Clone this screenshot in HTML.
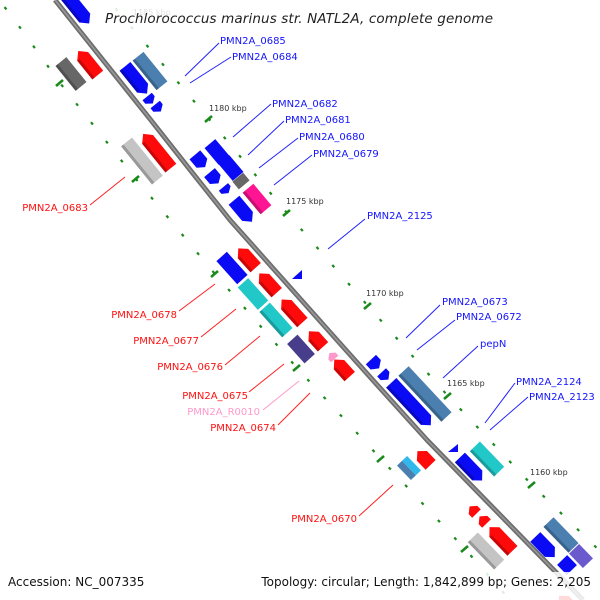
<!DOCTYPE html>
<html><head><meta charset="utf-8"><style>
html,body{margin:0;padding:0;background:#fff;}
svg{display:block;font-family:"DejaVu Sans","Liberation Sans",sans-serif;}
.b{fill:#0a0af5}.r{fill:#ff0a0a}.s{fill:#4a7fb0}.c{fill:#22c8c8}.g{fill:#676767}.lg{fill:#c4c4c4}
.sh{fill:#000;opacity:.22}
.lb{fill:#1414ff;font-size:10px}.lr{fill:#ff1010;font-size:10px}
.k{fill:#333;font-size:8px}
</style></head><body>
<svg width="600" height="600" viewBox="0 0 600 600" xmlns="http://www.w3.org/2000/svg">
<rect width="600" height="600" fill="#fff"/>
<polyline points="100,-10 209,119 287,213 368,306 448,396 532,485 640,590" fill="none" stroke="#1a8a1a" stroke-width="2.2" stroke-dasharray="3 21"/>
<polyline points="-10,-12 16,22 60,83 136,179 215,274 297,368 381,459 465,549 510,600" fill="none" stroke="#1a8a1a" stroke-width="2.2" stroke-dasharray="3 21"/>
<g stroke="#1a8a1a" stroke-width="2.6">
<line x1="205" y1="122" x2="212" y2="116"/><line x1="283" y1="216" x2="290" y2="210"/><line x1="364" y1="309" x2="371" y2="303"/><line x1="444" y1="399" x2="451" y2="393"/><line x1="528" y1="488" x2="535" y2="482"/>
<line x1="56" y1="86" x2="63" y2="80"/><line x1="132" y1="182" x2="139" y2="176"/><line x1="211" y1="277" x2="218" y2="271"/><line x1="293" y1="371" x2="300" y2="365"/><line x1="377" y1="462" x2="384" y2="456"/><line x1="461" y1="552" x2="468" y2="546"/>
</g>
<path d="M55,0 L150,119 Q190,170 230,220 Q279,275 328,330 Q377,385 427,440 L583,600" fill="none" stroke="#6e6e6e" stroke-width="5"/>
<path d="M55,0 L150,119 Q190,170 230,220 Q279,275 328,330 Q377,385 427,440 L583,600" fill="none" stroke="#9a9a9a" stroke-width="1.5"/>

<g transform="translate(75,6) rotate(51)"><polygon class="b" points="-22.5,-7 15.5,-7 22.5,0 15.5,7 -22.5,7"/><rect class="sh" x="-22.5" y="4" width="38" height="3"/></g>
<g transform="translate(71,74) rotate(51)"><polygon class="g" points="-16,-7 16,-7 16,7 -16,7"/><rect class="sh" x="-16" y="4" width="32" height="3"/></g>
<g transform="translate(88,63) rotate(51)"><polygon class="r" points="-15.5,0 -8.5,-7 15.5,-7 15.5,7 -8.5,7"/><rect class="sh" x="-8.5" y="4" width="24" height="3"/></g>
<g transform="translate(136,80) rotate(51)"><polygon class="b" points="-17.5,-7 10.5,-7 17.5,0 10.5,7 -17.5,7"/><rect class="sh" x="-17.5" y="4" width="28" height="3"/></g>
<g transform="translate(150,71) rotate(51)"><polygon class="s" points="-19,-7 19,-7 19,7 -19,7"/><rect class="sh" x="-19" y="4" width="38" height="3"/></g>
<g transform="translate(150,100) rotate(51)"><polygon class="b" points="-4.5,-6 0,-6 4.5,0 0,6 -4.5,6"/></g>
<g transform="translate(158,108) rotate(51)"><polygon class="b" points="-4.5,-6 0,-6 4.5,0 0,6 -4.5,6"/></g>
<g transform="translate(142,161) rotate(51)"><polygon class="lg" points="-24.5,-7 24.5,-7 24.5,7 -24.5,7"/><rect class="sh" x="-24.5" y="4" width="49" height="3"/></g>
<g transform="translate(157,151) rotate(51)"><polygon class="r" points="-22,0 -15,-7 22,-7 22,7 -15,7"/><rect class="sh" x="-15" y="4" width="37" height="3"/></g>
<g transform="translate(217,152) rotate(50)"><polygon class="b" points="-11,-7 11,-7 11,7 -11,7"/></g>
<g transform="translate(231,168) rotate(50)"><polygon class="b" points="-11,-7 11,-7 11,7 -11,7"/></g>
<g transform="translate(241,181) rotate(50)"><polygon class="g" points="-5,-7 5,-7 5,7 -5,7"/></g>
<g transform="translate(257,199) rotate(50)"><polygon fill="#ff1493" points="-14,-7 14,-7 14,7 -14,7"/><rect class="sh" x="-14" y="4" width="28" height="3"/></g>
<g transform="translate(200,161) rotate(50)"><polygon class="b" points="-8,-7 3,-7 8,0 3,7 -8,7"/></g>
<g transform="translate(214,178) rotate(50)"><polygon class="b" points="-7,-7 2,-7 7,0 2,7 -7,7"/></g>
<g transform="translate(226,190) rotate(50)"><polygon class="b" points="-4,-6 0,-6 4,0 0,6 -4,6"/></g>
<g transform="translate(243,211) rotate(50)"><polygon class="b" points="-14,-7 7,-7 14,0 7,7 -14,7"/></g>

<g transform="translate(247,258) rotate(48)"><polygon class="r" points="-13,0 -6,-7 13,-7 13,7 -6,7"/><rect class="sh" x="-6" y="4" width="19" height="3"/></g>
<g transform="translate(268,283) rotate(48)"><polygon class="r" points="-13,0 -6,-7 13,-7 13,7 -6,7"/><rect class="sh" x="-6" y="4" width="19" height="3"/></g>
<g transform="translate(292,311) rotate(48)"><polygon class="r" points="-15.5,0 -8.5,-7 15.5,-7 15.5,7 -8.5,7"/><rect class="sh" x="-8.5" y="4" width="24" height="3"/></g>
<g transform="translate(316,339) rotate(48)"><polygon class="r" points="-10.5,0 -3.5,-7 10.5,-7 10.5,7 -3.5,7"/><rect class="sh" x="-3.5" y="4" width="14" height="3"/></g>
<g transform="translate(342,368) rotate(48)"><polygon class="r" points="-11.5,0 -4.5,-7 11.5,-7 11.5,7 -4.5,7"/><rect class="sh" x="-4.5" y="4" width="16" height="3"/></g>
<g transform="translate(332,356) rotate(48)"><polygon fill="#ff99cc" points="-4,0 0,-5 4,-5 4,5 0,5"/></g>
<g transform="translate(232,268) rotate(48)"><polygon class="b" points="-15.5,-7 15.5,-7 15.5,7 -15.5,7"/></g>
<g transform="translate(253,294) rotate(48)"><polygon class="c" points="-15,-7 15,-7 15,7 -15,7"/></g>
<g transform="translate(276,320) rotate(48)"><polygon class="c" points="-17,-7 17,-7 17,7 -17,7"/><rect class="sh" x="-17" y="4" width="34" height="3"/></g>
<g transform="translate(301,349) rotate(48)"><polygon fill="#483d8b" points="-13,-7 13,-7 13,7 -13,7"/></g>
<polygon class="b" points="292,279 302,279 302,270"/>
<g transform="translate(375,364) rotate(47)"><polygon class="b" points="-6,-7 1,-7 6,0 1,7 -6,7"/></g>
<g transform="translate(385,376) rotate(47)"><polygon class="b" points="-5,-6 0,-6 5,0 0,6 -5,6"/></g>
<g transform="translate(411,404) rotate(47)"><polygon class="b" points="-29,-7 22,-7 29,0 22,7 -29,7"/><rect class="sh" x="-29" y="4" width="51" height="3"/></g>
<g transform="translate(425,394) rotate(47)"><polygon class="s" points="-31.5,-7 31.5,-7 31.5,7 -31.5,7"/><rect class="sh" x="-31.5" y="4" width="63" height="3"/></g>

<g transform="translate(409,468) rotate(46)"><polygon class="s" points="-10,0 10,0 10,7 -10,7"/><polygon fill="#30b8ec" points="-10,-7 10,-7 10,0 -10,0"/></g>
<g transform="translate(424,458) rotate(46)"><polygon class="r" points="-9.5,0 -3,-7 9.5,-7 9.5,7 -3,7"/></g>
<polygon class="b" points="448,452 458,452 458,444"/>
<g transform="translate(471,469) rotate(46)"><polygon class="b" points="-16,-7 9,-7 16,0 9,7 -16,7"/><rect class="sh" x="-16" y="4" width="25" height="3"/></g>
<g transform="translate(487,459) rotate(46)"><polygon class="c" points="-17.5,-7 17.5,-7 17.5,7 -17.5,7"/><rect class="sh" x="-17.5" y="4" width="35" height="3"/></g>
<g transform="translate(473,510) rotate(46)"><polygon class="r" points="-5,0 0,-6 5,-6 5,6 0,6"/></g>
<g transform="translate(483,520) rotate(46)"><polygon class="r" points="-5,0 0,-6 5,-6 5,6 0,6"/></g>
<g transform="translate(501,539) rotate(46)"><polygon class="r" points="-16.5,0 -9.5,-7 16.5,-7 16.5,7 -9.5,7"/><rect class="sh" x="-9.5" y="4" width="26" height="3"/></g>
<g transform="translate(486,551) rotate(46)"><polygon class="lg" points="-19,-7 19,-7 19,7 -19,7"/><rect class="sh" x="-19" y="4" width="38" height="3"/></g>
<g transform="translate(561,535) rotate(46)"><polygon class="s" points="-18,-7 18,-7 18,7 -18,7"/><rect class="sh" x="-18" y="4" width="36" height="3"/></g>
<g transform="translate(545,547) rotate(46)"><polygon class="b" points="-14,-7 7,-7 14,0 7,7 -14,7"/></g>
<g transform="translate(581,556) rotate(46)"><polygon fill="#6a5acd" points="-10,-7 10,-7 10,7 -10,7"/></g>
<g transform="translate(567,565) rotate(46)"><polygon class="b" points="-7,-7 7,-7 7,7 -7,7"/></g>
<g transform="translate(566,603) rotate(46)"><polygon class="r" points="-10,0 -3,-7 10,-7 10,7 -3,7"/></g>

<g stroke="#2020ff" stroke-width="1">
<line x1="185" y1="76" x2="219" y2="43"/><line x1="190" y1="83" x2="231" y2="57"/>
<line x1="233" y1="137" x2="271" y2="104"/><line x1="248" y1="155" x2="284" y2="121"/>
<line x1="259" y1="168" x2="298" y2="138"/><line x1="274" y1="185" x2="312" y2="155"/>
<line x1="328" y1="249" x2="365" y2="219"/><line x1="406" y1="338" x2="440" y2="305"/>
<line x1="417" y1="350" x2="455" y2="320"/><line x1="443" y1="378" x2="478" y2="346"/>
<line x1="485" y1="423" x2="515" y2="383"/><line x1="490" y1="430" x2="528" y2="397"/>
</g>
<g stroke="#ff2020" stroke-width="1">
<line x1="90" y1="205" x2="125" y2="177"/><line x1="179" y1="311" x2="215" y2="284"/>
<line x1="201" y1="337" x2="236" y2="309"/><line x1="225" y1="365" x2="260" y2="336"/>
<line x1="249" y1="392" x2="284" y2="364"/><line x1="278" y1="425" x2="310" y2="393"/>
<line x1="359" y1="516" x2="393" y2="485"/>
</g>
<line x1="263" y1="410" x2="299" y2="381" stroke="#ff99cc" stroke-width="1"/>

<text class="lb" x="220" y="44">PMN2A_0685</text>
<text class="lb" x="232" y="60">PMN2A_0684</text>
<text class="lb" x="272" y="107">PMN2A_0682</text>
<text class="lb" x="285" y="123">PMN2A_0681</text>
<text class="lb" x="299" y="140">PMN2A_0680</text>
<text class="lb" x="313" y="157">PMN2A_0679</text>
<text class="lb" x="367" y="219">PMN2A_2125</text>
<text class="lb" x="442" y="305">PMN2A_0673</text>
<text class="lb" x="456" y="320">PMN2A_0672</text>
<text class="lb" x="480" y="347">pepN</text>
<text class="lb" x="516" y="385">PMN2A_2124</text>
<text class="lb" x="529" y="400">PMN2A_2123</text>
<text class="lr" x="88" y="211" text-anchor="end">PMN2A_0683</text>
<text class="lr" x="177" y="318" text-anchor="end">PMN2A_0678</text>
<text class="lr" x="199" y="344" text-anchor="end">PMN2A_0677</text>
<text class="lr" x="223" y="370" text-anchor="end">PMN2A_0676</text>
<text class="lr" x="248" y="399" text-anchor="end">PMN2A_0675</text>
<text x="260" y="415" text-anchor="end" style="fill:#ff99cc;font-size:10px">PMN2A_R0010</text>
<text class="lr" x="276" y="431" text-anchor="end">PMN2A_0674</text>
<text class="lr" x="357" y="522" text-anchor="end">PMN2A_0670</text>
<text class="k" x="209" y="111">1180 kbp</text>
<text class="k" x="286" y="204">1175 kbp</text>
<text class="k" x="366" y="296">1170 kbp</text>
<text class="k" x="447" y="386">1165 kbp</text>
<text class="k" x="530" y="475">1160 kbp</text>
<text class="k" x="133" y="15">1185 kbp</text>
<rect x="100" y="4" width="400" height="26" fill="#fff" opacity=".85"/>
<text x="105" y="23" textLength="388" style="font-size:13.5px;font-style:italic;fill:#222">Prochlorococcus marinus str. NATL2A, complete genome</text>
<rect x="0" y="572" width="600" height="28" fill="#fff" opacity=".85"/>
<text x="8" y="586" style="font-size:12px;fill:#111">Accession: NC_007335</text>
<text x="591" y="586" text-anchor="end" style="font-size:12px;fill:#111">Topology: circular; Length: 1,842,899 bp; Genes: 2,205</text>
</svg>
</body></html>
